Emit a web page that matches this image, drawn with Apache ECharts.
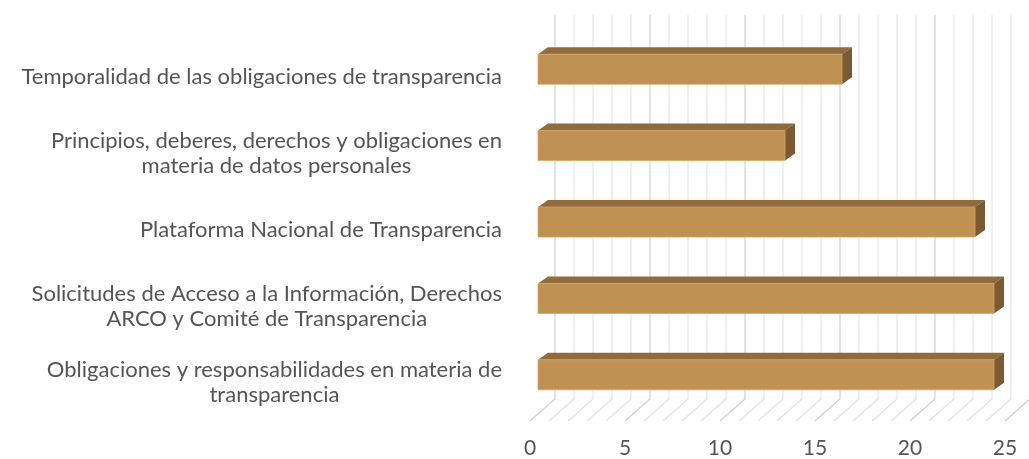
<!DOCTYPE html>
<html>
<head>
<meta charset="utf-8">
<script src="https://cdn.jsdelivr.net/npm/echarts@6/dist/echarts.min.js"></script>
<style>html,body{margin:0;padding:0;background:#fff}#c{width:1029px;height:459px}</style>
</head>
<body>
<div id="c"></div>
<script>
// categories listed bottom to top (ECharts category axis order)
const categories = [
  "Obligaciones y responsabilidades en materia de\ntransparencia",
  "Solicitudes de Acceso a la Información, Derechos\nARCO y Comité de Transparencia",
  "Plataforma Nacional de Transparencia",
  "Principios, deberes, derechos y obligaciones en\nmateria de datos personales",
  "Temporalidad de las obligaciones de transparencia"
];
const values = [24, 24, 23, 13, 16];
const gridTicks = [0,1,2,3,4,5,6,7,8,9,10,11,12,13,14,15,16,17,18,19,20,21,22,23,24,25];
const axisMin = 0, axisMax = 25, axisStep = 5;

const chart = echarts.init(document.getElementById('c'), null, {renderer: 'canvas'});
const FONT = 'Lato';
const BACK_DX = 25, BACK_DY = -22;   // back wall offset from front floor edge
const BAR_DX = 8, BAR_DY = -8;       // bar front face offset
const DEPTH_DX = 10, DEPTH_DY = -7;  // bar depth
const BAR_H = 30;

chart.setOption({
  backgroundColor: '#ffffff',
  animation: false,
  grid: {left: 530, right: 24, top: 39, bottom: 38, containLabel: false},
  xAxis: {
    type: 'value', min: axisMin, max: axisMax, interval: axisStep,
    axisLine: {show: false}, axisTick: {show: false}, splitLine: {show: false},
    axisLabel: {color: '#555555', fontFamily: FONT, fontSize: 21, margin: 17}
  },
  yAxis: {
    type: 'category', data: categories,
    axisLine: {show: false}, axisTick: {show: false}, splitLine: {show: false},
    axisLabel: {
      margin: 28, align: 'right',
      formatter: function (v) {
        return v.split('\n').map(function (l) { return '{c|' + l + '}'; }).join('\n');
      },
      rich: {c: {align: 'center', color: '#555555', fontFamily: FONT, fontSize: 22, lineHeight: 25}}
    }
  },
  series: [
    {
      type: 'custom', z: 1, silent: true,
      data: gridTicks.map(function (t) { return [t, 0]; }),
      encode: {x: 0, y: 1},
      renderItem: function (params, api) {
        const v = api.value(0);
        const p = api.coord([v, 0]);
        const top = api.coord([v, categories.length - 1]);
        const band = api.size([0, 1])[1];
        const frontY = p[1] + band / 2;
        const topY = top[1] - band / 2 + BACK_DY - 2;
        const bx = p[0] + BACK_DX, by = frontY + BACK_DY;
        const major = v % 5 === 0;
        const col = major ? '#d2d2d2' : '#e6e6e6';
        return {
          type: 'group',
          children: [
            {type: 'line', shape: {x1: bx, y1: topY, x2: bx, y2: by}, style: {stroke: col, lineWidth: 1.2}},
            {type: 'line', shape: {x1: p[0], y1: frontY, x2: bx, y2: by}, style: {stroke: major ? '#cfcfcf' : '#e2e2e2', lineWidth: 1.2}}
          ]
        };
      }
    },
    {
      type: 'custom', z: 2, silent: true,
      data: values.map(function (v, i) { return [v, i]; }),
      encode: {x: 0, y: 1},
      renderItem: function (params, api) {
        const idx = api.value(1);
        const p0 = api.coord([0, idx]);
        const p1 = api.coord([api.value(0), idx]);
        const x0 = p0[0] + BAR_DX, x1 = p1[0] + BAR_DX;
        const yc = p0[1] + BAR_DY;
        const yt = yc - BAR_H / 2, yb = yc + BAR_H / 2;
        return {
          type: 'group',
          children: [
            {type: 'polygon', shape: {points: [[x0, yt], [x1, yt], [x1 + DEPTH_DX, yt + DEPTH_DY], [x0 + DEPTH_DX, yt + DEPTH_DY]]},
             style: {fill: '#8f6b3d'}},
            {type: 'polygon', shape: {points: [[x1, yt], [x1 + DEPTH_DX, yt + DEPTH_DY], [x1 + DEPTH_DX, yb + DEPTH_DY], [x1, yb]]},
             style: {fill: '#7b5a31'}},
            {type: 'rect', shape: {x: x0, y: yt, width: x1 - x0, height: BAR_H},
             style: {fill: '#bf9152', stroke: '#d0a468', lineWidth: 0.8}}
          ]
        };
      }
    }
  ]
});
</script>
</body>
</html>
